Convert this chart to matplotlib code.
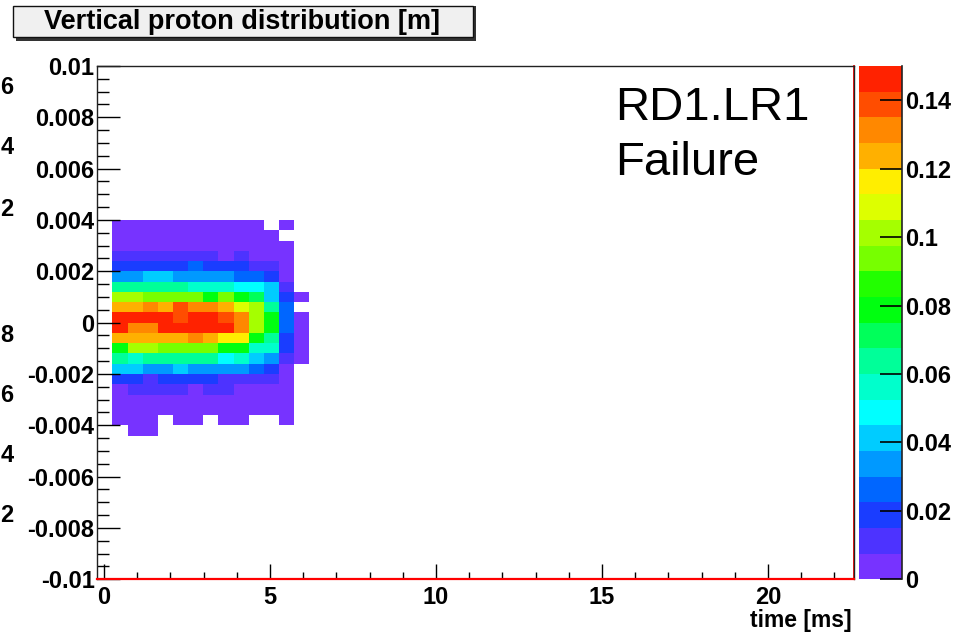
import numpy as np
import matplotlib
matplotlib.use("Agg")
import matplotlib.pyplot as plt
from matplotlib.colors import ListedColormap, BoundaryNorm
from matplotlib.patches import Rectangle
from matplotlib.ticker import MultipleLocator, FuncFormatter

N = np.nan

# histogram binning (50 x 50 bins), only the filled part is listed below
t_range = (-0.2, 22.6)
y_range = (-0.01, 0.01)
n_bins = 50
first_t_bin = 1      # first filled time bin
first_y_bin = 14     # lowest filled vertical bin

# bin contents, rows from top (y = 0.004) to bottom (y = -0.0044)
counts = [
    [0.004, 0.004, 0.004, 0.004, 0.004, 0.004, 0.004, 0.004, 0.004, 0.004, N, 0.004, N],
    [0.004, 0.004, 0.004, 0.004, 0.004, 0.004, 0.004, 0.004, 0.004, 0.004, 0.004, N, N],
    [0.004, 0.004, 0.004, 0.004, 0.004, 0.004, 0.004, 0.004, 0.004, 0.004, 0.004, 0.004, N],
    [0.011, 0.011, 0.011, 0.011, 0.011, 0.011, 0.011, 0.004, 0.011, 0.004, 0.004, 0.004, N],
    [0.019, 0.019, 0.019, 0.019, 0.019, 0.026, 0.019, 0.019, 0.019, 0.011, 0.011, 0.004, N],
    [0.034, 0.034, 0.041, 0.041, 0.034, 0.034, 0.034, 0.034, 0.026, 0.026, 0.019, 0.004, N],
    [0.064, 0.064, 0.064, 0.064, 0.064, 0.056, 0.056, 0.056, 0.049, 0.049, 0.041, 0.011, N],
    [0.101, 0.101, 0.094, 0.094, 0.094, 0.094, 0.079, 0.094, 0.079, 0.071, 0.041, 0.019, 0.004],
    [0.124, 0.124, 0.131, 0.124, 0.139, 0.131, 0.131, 0.124, 0.109, 0.101, 0.064, 0.026, N],
    [0.146, 0.146, 0.146, 0.146, 0.139, 0.146, 0.146, 0.139, 0.131, 0.101, 0.079, 0.026, 0.004],
    [0.146, 0.131, 0.131, 0.146, 0.146, 0.146, 0.146, 0.146, 0.131, 0.101, 0.079, 0.026, 0.004],
    [0.124, 0.124, 0.124, 0.124, 0.124, 0.131, 0.124, 0.116, 0.116, 0.079, 0.064, 0.019, 0.004],
    [0.079, 0.101, 0.101, 0.094, 0.094, 0.094, 0.094, 0.079, 0.079, 0.056, 0.056, 0.019, 0.004],
    [0.064, 0.056, 0.064, 0.064, 0.064, 0.064, 0.064, 0.049, 0.056, 0.041, 0.034, 0.011, 0.004],
    [0.041, 0.041, 0.034, 0.034, 0.041, 0.034, 0.034, 0.034, 0.034, 0.026, 0.019, 0.004, N],
    [0.019, 0.019, 0.011, 0.019, 0.019, 0.019, 0.019, 0.011, 0.011, 0.011, 0.011, 0.004, N],
    [0.004, 0.011, 0.011, 0.011, 0.011, 0.004, 0.011, 0.011, 0.004, 0.004, 0.004, 0.004, N],
    [0.004, 0.004, 0.004, 0.004, 0.004, 0.004, 0.004, 0.004, 0.004, 0.004, 0.004, 0.004, N],
    [0.004, 0.004, 0.004, 0.004, 0.004, 0.004, 0.004, 0.004, 0.004, 0.004, 0.004, 0.004, N],
    [0.004, 0.004, 0.004, N, 0.004, 0.004, N, 0.004, 0.004, N, N, 0.004, N],
    [N, 0.004, 0.004, N, N, N, N, N, N, N, N, N, N],
]

z_max = 0.15
n_contours = 20
palette = [
    '#7733FF', '#4D33FF', '#1A3DFF', '#0066FF', '#0099FF',
    '#00CCFF', '#00FFFF', '#00FFCC', '#00FF99', '#00FF5A',
    '#00FF10', '#22FF00', '#77FF00', '#A5FF00', '#DDFF00',
    '#FFEE00', '#FFB000', '#FF8800', '#FF4D00', '#FF2200',
]
z_ticks = [0, 0.02, 0.04, 0.06, 0.08, 0.1, 0.12, 0.14]
# last digits of the neighbouring pad's palette labels at the left border
side_labels = ['6', '4', '2', '8', '6', '4', '2']
side_label_y = [88, 148, 209, 335, 395, 455, 516]

W, H = 967, 633
bold = {'family': 'Liberation Sans', 'weight': 'bold'}

fig = plt.figure(figsize=(W / 100, H / 100), dpi=100)
fig.patch.set_facecolor('white')

def fig_box(x0, y0, x1, y1):
    return [x0 / W, 1 - y1 / H, (x1 - x0) / W, (y1 - y0) / H]

ax = fig.add_axes(fig_box(97.3, 66, 854.3, 579.3))
cax = fig.add_axes(fig_box(858.5, 66, 902, 579.3))

# 2D histogram
data = np.ma.masked_invalid(np.array(counts)[::-1])
t_edges = np.linspace(*t_range, n_bins + 1)
y_edges = np.linspace(*y_range, n_bins + 1)
nrow, ncol = data.shape
te = t_edges[first_t_bin:first_t_bin + ncol + 1]
ye = y_edges[first_y_bin:first_y_bin + nrow + 1]

cmap = ListedColormap(palette)
levels = np.linspace(0, z_max, n_contours + 1)
norm = BoundaryNorm(levels, cmap.N)
mesh = ax.pcolormesh(te, ye, data, cmap=cmap, norm=norm, edgecolors='none')

ax.set_xlim(*t_range)
ax.set_ylim(*y_range)

ax.xaxis.set_major_locator(MultipleLocator(5))
ax.xaxis.set_minor_locator(MultipleLocator(1))
ax.yaxis.set_major_locator(MultipleLocator(0.002))
ax.yaxis.set_minor_locator(MultipleLocator(0.0005))
ax.xaxis.set_major_formatter(FuncFormatter(lambda v, p: '%g' % round(v, 6)))
ax.yaxis.set_major_formatter(FuncFormatter(lambda v, p: '%g' % round(v, 6)))
ax.tick_params(axis='x', which='major', direction='in', length=10.8, width=1, pad=5,
               labelsize=17, top=False)
ax.tick_params(axis='x', which='minor', direction='in', length=5.4, width=1, top=False)
ax.tick_params(axis='y', which='major', direction='in', length=16.6, width=1, pad=2,
               labelsize=17, right=False)
ax.tick_params(axis='y', which='minor', direction='in', length=8.3, width=1, right=False)
for lab in ax.get_xticklabels() + ax.get_yticklabels():
    lab.set_fontfamily('Liberation Sans')
    lab.set_fontweight('bold')

for side in ['top', 'left', 'right']:
    ax.spines[side].set_color('#222222')
    ax.spines[side].set_linewidth(1.0)
ax.spines['bottom'].set_color('red')
ax.spines['bottom'].set_linewidth(1.6)
ax.plot([0.999, 0.999], [0, 1], transform=ax.transAxes, color='red', lw=1.3,
        clip_on=False)

fig.text(852 / W, 1 - 621 / H, 'time [ms]', ha='right', va='center', fontsize=16.5,
         **bold)

# palette axis
cb = fig.colorbar(mesh, cax=cax, ticks=z_ticks)
cb.outline.set_visible(False)
cax.yaxis.set_ticks_position('right')
cax.yaxis.set_major_formatter(FuncFormatter(lambda v, p: '%g' % round(v, 6)))
cax.tick_params(direction='in', length=16, width=1.2, pad=2, labelsize=17)
cax.minorticks_off()
for lab in cax.get_yticklabels():
    lab.set_fontfamily('Liberation Sans')
    lab.set_fontweight('bold')
cax.plot([1, 1], [0, 1], transform=cax.transAxes, color='#222222', lw=1.2,
         clip_on=False)

# title box with shadow
fig.patches.append(Rectangle((15.5 / W, 1 - 40.5 / H), 460 / W, 34.5 / H,
                             transform=fig.transFigure, facecolor='#333333',
                             edgecolor='none'))
fig.patches.append(Rectangle((12.5 / W, 1 - 37 / H), 460 / W, 31 / H,
                             transform=fig.transFigure, facecolor='#f0f0f0',
                             edgecolor='#111111', lw=1))
fig.text(242 / W, 1 - 22 / H, 'Vertical proton distribution [m]', ha='center',
         va='center', fontsize=19.5, **bold)

# annotation
fig.text(615 / W, 1 - 108 / H, 'RD1.LR1', ha='left', va='center', fontsize=34,
         family='Liberation Sans')
fig.text(615 / W, 1 - 163 / H, 'Failure', ha='left', va='center', fontsize=34,
         family='Liberation Sans')

for txt, yy in zip(side_labels, side_label_y):
    fig.text(0.5 / W, 1 - yy / H, txt, ha='left', va='center', fontsize=17, **bold)

fig.savefig('out.png', dpi=100)
